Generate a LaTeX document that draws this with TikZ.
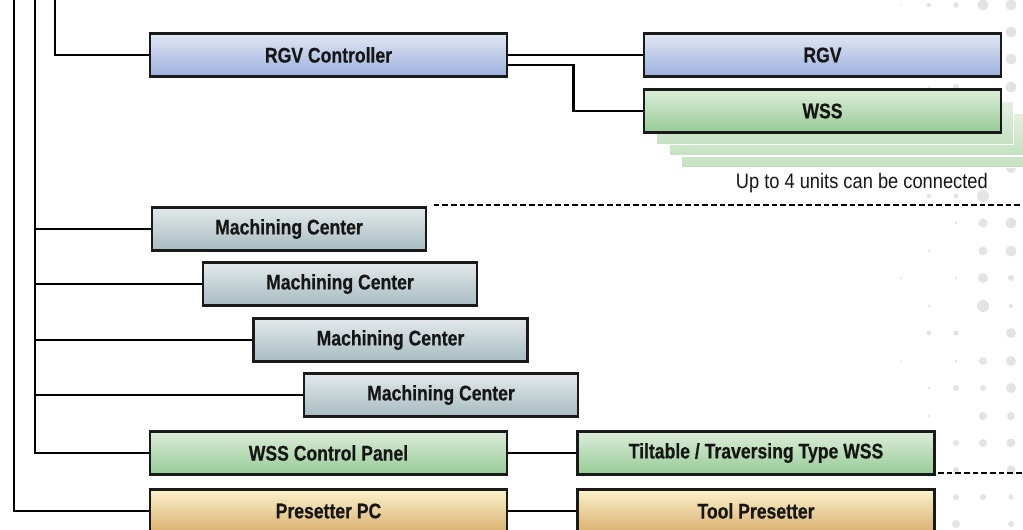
\documentclass[tikz,border=0pt]{standalone}
\usepackage{fontspec}
\setmainfont{Liberation Sans}
\newfontfamily\labelfamily{Liberation Sans}[FakeStretch=0.83, BoldFeatures={FakeBold=0.5}]
\newfontfamily\notefamily{Liberation Sans}[FakeStretch=0.87]
\usetikzlibrary{calc}
\definecolor{blueT}{HTML}{E1E7F5}
\definecolor{blueB}{HTML}{9BB0DC}
\definecolor{greenT}{HTML}{DDEDD9}
\definecolor{greenB}{HTML}{96CB96}
\definecolor{grayT}{HTML}{E3E9EB}
\definecolor{grayB}{HTML}{A7BBC1}
\definecolor{orangeT}{HTML}{FCF2CB}
\definecolor{orangeB}{HTML}{D9B06F}
\definecolor{layerT}{HTML}{E3F0E0}
\definecolor{layerB}{HTML}{C3E2C0}
\definecolor{boxline}{HTML}{1A1A1A}
\definecolor{txt}{HTML}{161616}
\definecolor{dotc}{HTML}{E3E3E6}
\newcommand\mylabelfont{\labelfamily\fontsize{15.9pt}{17pt}\selectfont\bfseries}
\newcommand\myregfont{\notefamily\fontsize{15.75pt}{17pt}\selectfont}
\begin{document}
\begin{tikzpicture}[x=0.75pt,y=-0.75pt,
  box/.style={draw=boxline, line width=1.6pt, inner sep=0pt,
    minimum height=32.25pt, font=\mylabelfont, text=txt},
  longbox/.style={box, minimum width=267.75pt},
  mcbox/.style={box, minimum width=205.5pt, top color=grayT, bottom color=grayB},
  bluebox/.style={longbox, top color=blueT, bottom color=blueB},
  greenbox/.style={longbox, top color=greenT, bottom color=greenB},
  orangebox/.style={longbox, top color=orangeT, bottom color=orangeB},
  layer/.style={draw=white, line width=1.2pt, top color=layerT, bottom color=layerB},
  conn/.style={draw=black, line width=1.75pt},
  dashln/.style={draw=black, line width=1.6pt, dash pattern=on 4.1pt off 2.4pt},
  dotfill/.style={fill=dotc}
]
\useasboundingbox (0,0) rectangle (1023,529);
\clip (0,0) rectangle (1023,529);
\fill[white] (0,0) rectangle (1023,529);

% background dots
\foreach \px/\py/\pr in {
  901/5/1, 929/5/2.2, 956/5/2.8, 983/5/5.5, 1011/5/5.5,
  1011/32/5.5, 1011/59/5.5,
  929/87/1.2, 956/87/3, 1011/87/5.5,
  1011/168/5,
  929/196/2.2, 956/196/2.5, 983/196/6,
  956/223/1.5, 983/223/4.5, 1011/223/5.5,
  929/251/1.3, 983/251/4.5, 1011/251/5.5,
  901/278/1, 956/278/1.5, 983/278/5, 1011/278/3,
  929/306/1.3, 983/306/6, 1011/306/2,
  929/333/2.5, 956/333/2.5, 1011/333/5,
  901/361/1, 956/361/1.5, 983/361/4, 1011/361/5,
  929/388/1.3, 956/388/3, 983/388/3, 1011/388/5,
  929/416/1.3, 983/416/4, 1011/416/4,
  956/443/3, 983/443/4, 1011/443/4.5,
  956/470/3, 1011/470/4.5,
  956/497/3, 983/497/3, 1011/497/2.5,
  956/524/4, 1011/524/3}
  \fill[dotfill] (\px,\py) circle[radius=\pr*0.75pt];

% stacked WSS layers
\path[layer] (681.5,124.5) rectangle (1038.5,167.5);
\path[layer] (669,113) rectangle (1026,156);
\path[layer] (656.5,101.5) rectangle (1013.5,144.5);

% boxes
\node[bluebox] (ctrl) at (328.5,55) {RGV Controller};
\node[bluebox] (rgv) at (822.5,55) {RGV};
\node[greenbox] (wss) at (822.5,111) {WSS};
\node[mcbox] (mc1) at (289,229) {Machining Center};
\node[mcbox] (mc2) at (340,284) {Machining Center};
\node[mcbox] (mc3) at (390.5,340) {Machining Center};
\node[mcbox] (mc4) at (441,395) {Machining Center};
\node[greenbox] (wsscp) at (328.5,453) {WSS Control Panel};
\node[greenbox] (tilt) at (756,453) {Tiltable / Traversing Type WSS};
\node[orangebox] (ppc) at (328.5,511) {Presetter PC};
\node[orangebox] (tool) at (756,511) {Tool Presetter};

% connectors
\coordinate (v1) at (14,-5);
\coordinate (v2) at (35,-5);
\coordinate (v3) at (55,-5);
\coordinate (jx) at (573.5,0);
\coordinate (rE) at (1023,0);
\draw[conn] (v3) |- (ctrl.west);
\draw[conn] (v2) |- (wsscp.west);
\draw[conn] (v1) |- (ppc.west);
\foreach \m in {mc1,mc2,mc3,mc4}
  \draw[conn] (\m.west) -- (\m.west -| v2);
\draw[conn] (ctrl.east) -- (rgv.west);
\draw[conn] ([yshift=-7.5pt]ctrl.east) -| (jx |- wss.west) -- (wss.west);
\draw[conn] (wsscp.east) -- (tilt.west);
\draw[conn] (ppc.east) -- (tool.west);

% dashed limits
\coordinate (d1) at ([xshift=5pt,yshift=1pt]mc1.north east);
\coordinate (d2) at ([xshift=1.9pt,yshift=2.25pt]tilt.south east);
\draw[dashln] (d1) -- (d1 -| rE);
\draw[dashln] (d2) -- (d2 -| rE);

% note
\node[anchor=base east, font=\myregfont, text=txt, inner sep=0pt] (note) at (988,188) {Up to 4 units can be connected};
\end{tikzpicture}
\end{document}
